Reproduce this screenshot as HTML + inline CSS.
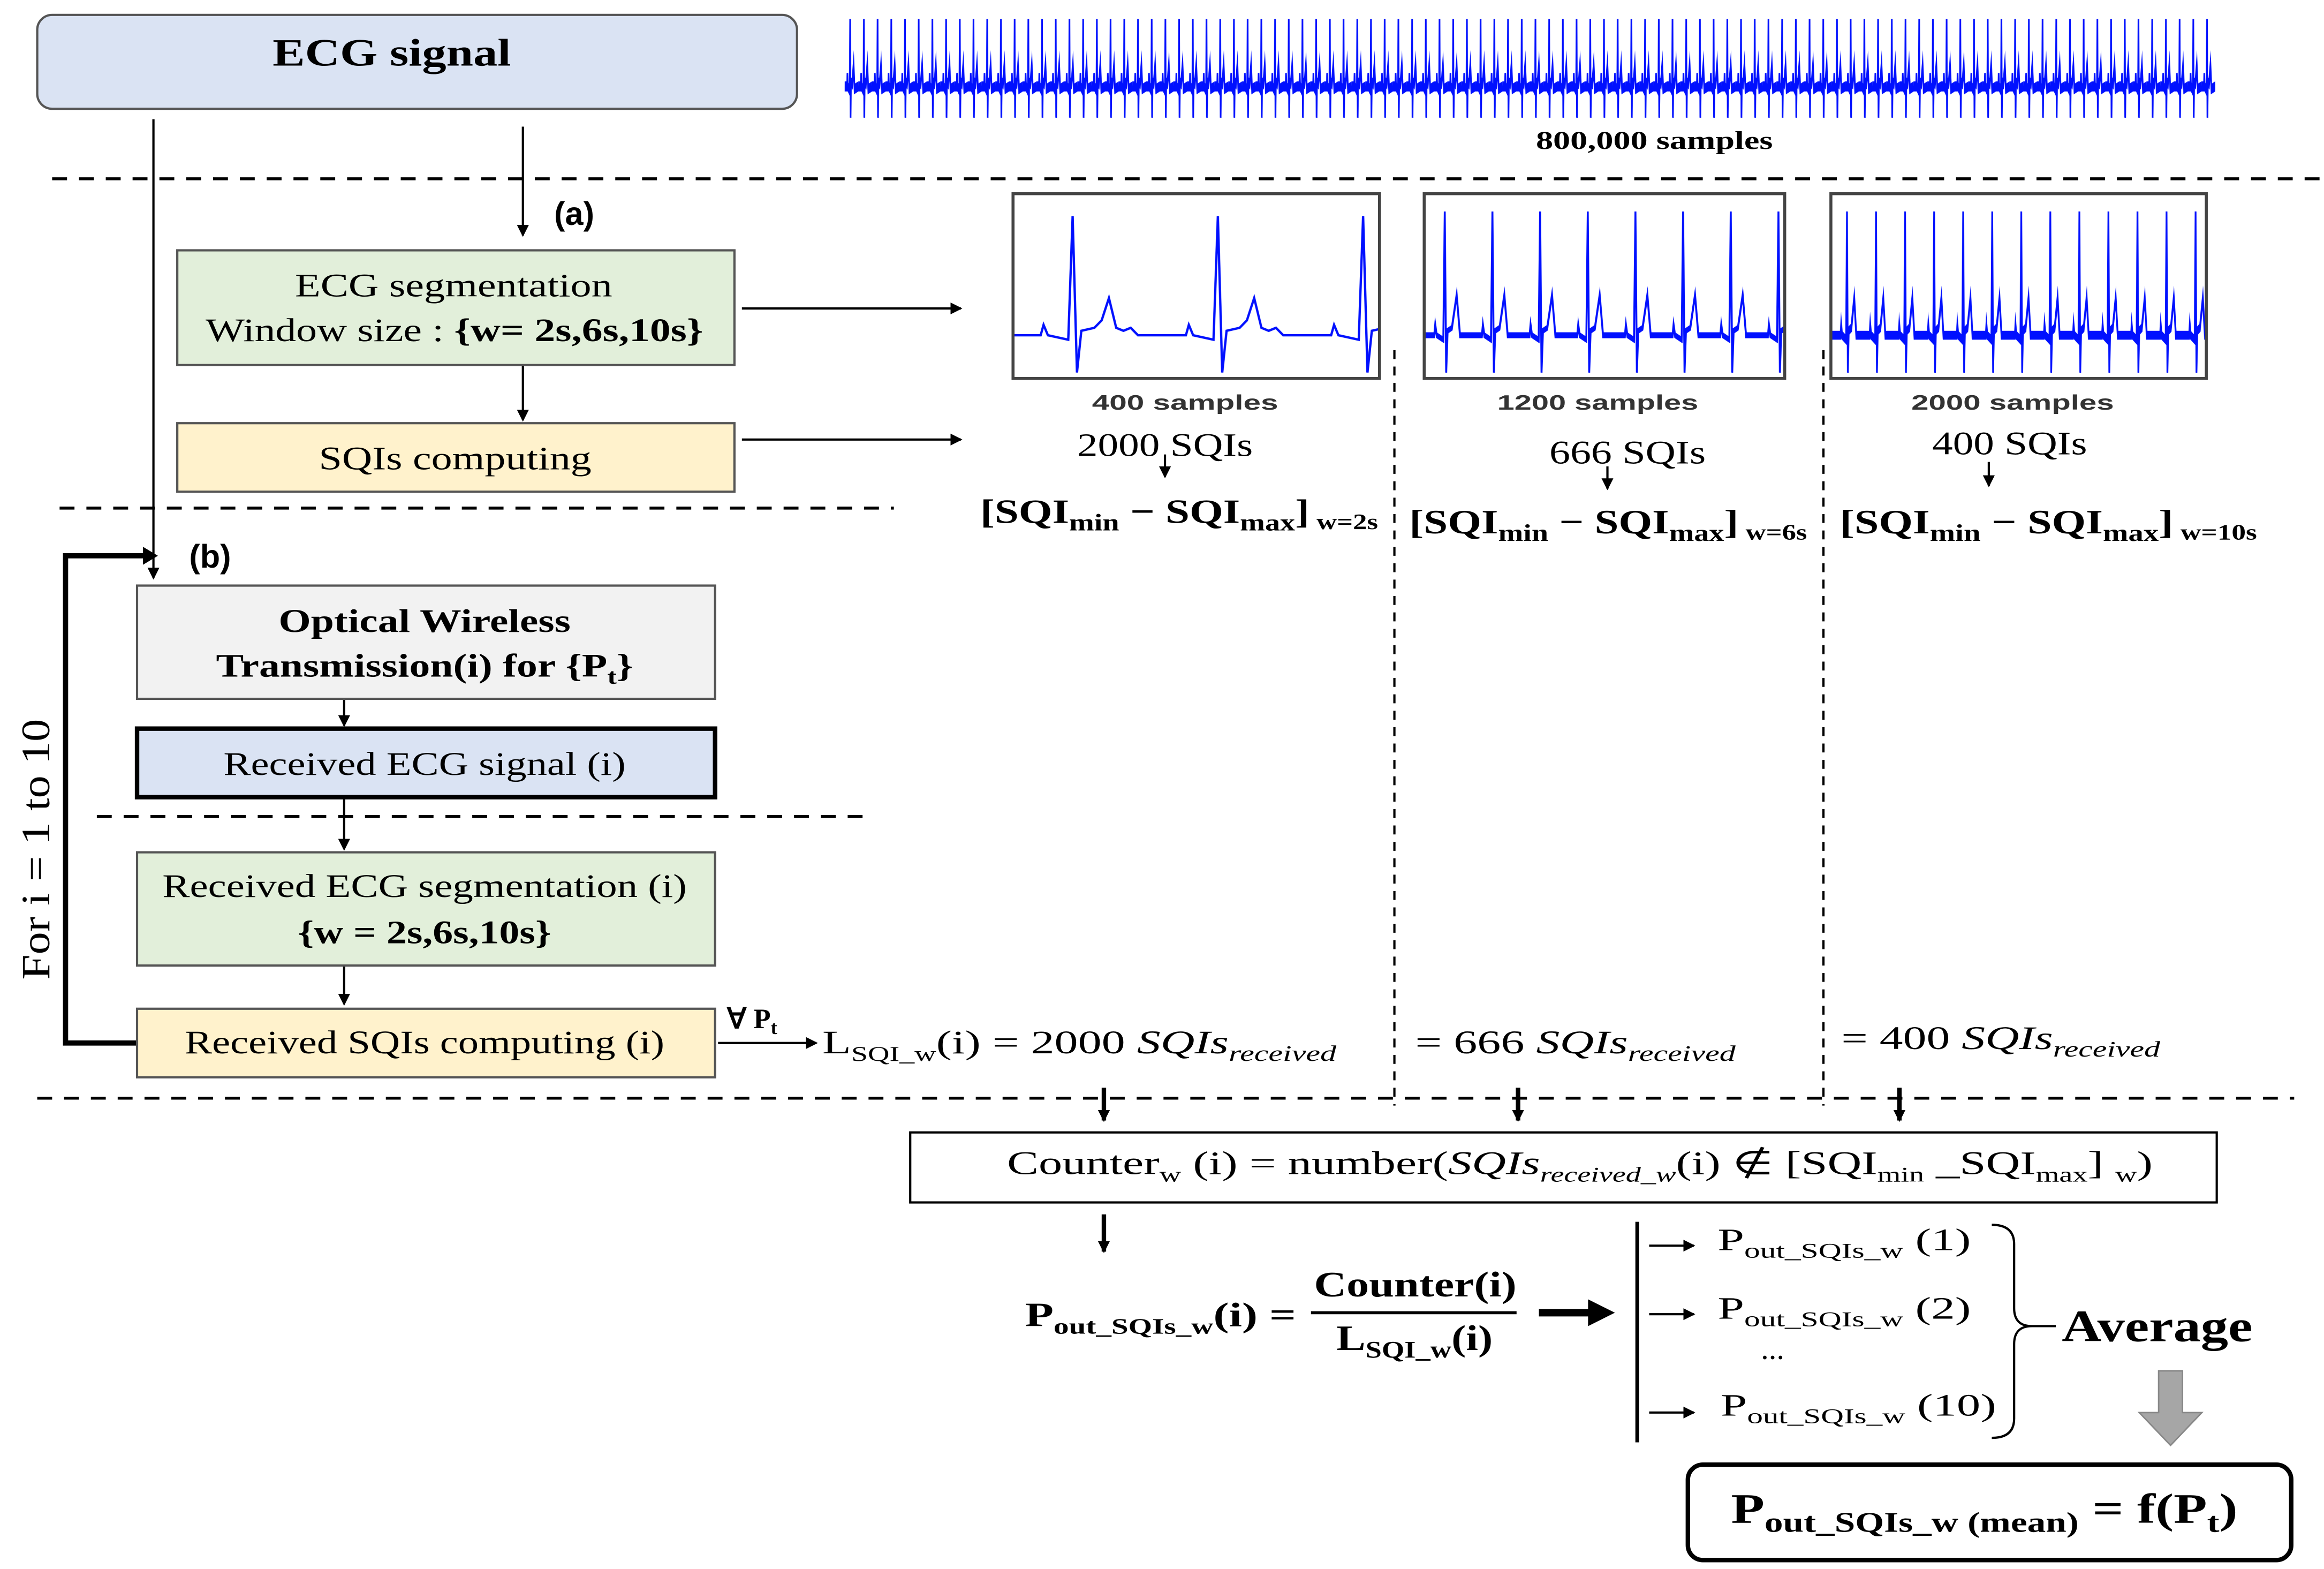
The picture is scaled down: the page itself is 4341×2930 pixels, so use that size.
<!DOCTYPE html>
<html><head><meta charset="utf-8"><style>html,body{margin:0;padding:0;background:#fff}svg{display:block}</style></head><body>
<svg xmlns="http://www.w3.org/2000/svg" width="4341" height="2930" viewBox="0 0 1560 1053" preserveAspectRatio="none" font-family="'Liberation Serif', serif">
<defs>
<marker id="ar" markerWidth="8" markerHeight="8" refX="7" refY="4" orient="auto" markerUnits="userSpaceOnUse"><path d="M0,0 L8,4 L0,8 z" fill="#000"/></marker>
<pattern id="pS" patternUnits="userSpaceOnUse" x="567" y="10" width="9.2" height="70" viewBox="0 0 100 124" preserveAspectRatio="none"><path d="M0,85 L18,85 L20,70 L23,85 L37,90 L40,5 L43,122 L46,80 L55,82 L65,60 L72,88 L100,85" fill="none" stroke="#0010ff" stroke-width="12"/></pattern>
<pattern id="p1" patternUnits="userSpaceOnUse" x="681" y="130" width="97.5" height="124" viewBox="0 0 100 124" preserveAspectRatio="none"><path d="M0,95 L18,95 L20,88 L23,95 L37,98 L40,15 L43,120 L46,92 L55,90 L60,85 L65,70 L70,90 L75,92 L80,90 L85,95 L100,95" fill="none" stroke="#0010ff" stroke-width="1.6"/></pattern>
<pattern id="p2" patternUnits="userSpaceOnUse" x="957" y="130" width="32" height="124" viewBox="0 0 100 124" preserveAspectRatio="none"><path d="M0,95 L18,95 L20,88 L23,95 L37,98 L40,12 L43,120 L46,92 L55,90 L65,68 L72,95 L100,95" fill="none" stroke="#0010ff" stroke-width="4"/></pattern>
<pattern id="p3" patternUnits="userSpaceOnUse" x="1232" y="130" width="19.5" height="124" viewBox="0 0 100 124" preserveAspectRatio="none"><path d="M0,95 L18,95 L20,88 L23,95 L37,98 L40,12 L43,120 L46,92 L55,90 L65,70 L72,95 L100,95" fill="none" stroke="#0010ff" stroke-width="6"/></pattern>
</defs>
<g stroke="#000" stroke-width="2" stroke-dasharray="10,8" fill="none">
<line x1="35" y1="120" x2="1560" y2="120"/><line x1="40" y1="341" x2="600" y2="341"/><line x1="65" y1="548" x2="580" y2="548"/><line x1="25" y1="737" x2="1540" y2="737"/>
</g>
<g stroke="#000" stroke-width="1.5" stroke-dasharray="6,5"><line x1="936" y1="235" x2="936" y2="742"/><line x1="1224" y1="235" x2="1224" y2="742"/></g>
<rect x="25" y="10" width="510" height="63" rx="10" fill="#dae3f3" stroke="#555" stroke-width="1.5"/>
<text x="183" y="44" font-size="26" font-weight="bold" textLength="160" lengthAdjust="spacingAndGlyphs">ECG signal</text>
<rect x="567" y="10" width="920" height="70" fill="url(#pS)"/>
<text x="1031" y="100" font-size="17" font-weight="bold" textLength="159" lengthAdjust="spacingAndGlyphs">800,000 samples</text>
<g stroke="#000" stroke-width="1.5" marker-end="url(#ar)" fill="none">
<line x1="103" y1="80" x2="103" y2="388"/><line x1="351" y1="85" x2="351" y2="158"/><line x1="351" y1="245" x2="351" y2="282"/>
<line x1="498" y1="207" x2="645" y2="207"/><line x1="498" y1="295" x2="645" y2="295"/>
<line x1="782" y1="305" x2="782" y2="320"/><line x1="1079" y1="313" x2="1079" y2="328"/><line x1="1335" y1="310" x2="1335" y2="326"/>
<line x1="231" y1="469" x2="231" y2="487"/><line x1="231" y1="535" x2="231" y2="570"/><line x1="231" y1="648" x2="231" y2="674"/>
<line x1="482" y1="700" x2="548" y2="700"/>
<line x1="1107" y1="836" x2="1137" y2="836"/><line x1="1107" y1="882" x2="1137" y2="882"/><line x1="1107" y1="948" x2="1137" y2="948"/>
</g>
<g stroke="#000" stroke-width="3" marker-end="url(#ar)" fill="none">
<line x1="741" y1="730" x2="741" y2="752"/><line x1="1019" y1="730" x2="1019" y2="752"/><line x1="1275" y1="730" x2="1275" y2="752"/><line x1="741" y1="815" x2="741" y2="840"/>
</g>
<text x="372" y="151" font-family="'Liberation Sans',sans-serif" font-size="22" font-weight="bold">(a)</text>
<rect x="119" y="168" width="374" height="77" fill="#e2efda" stroke="#555" stroke-width="1.5"/>
<text x="198" y="199" font-size="22" textLength="213" lengthAdjust="spacingAndGlyphs">ECG segmentation</text>
<text x="138" y="229" font-size="22" textLength="334" lengthAdjust="spacingAndGlyphs">Window size : <tspan font-weight="bold">{w= 2s,6s,10s}</tspan></text>
<rect x="119" y="284" width="374" height="46" fill="#fff2cc" stroke="#555" stroke-width="1.5"/>
<text x="214" y="315" font-size="22" textLength="183" lengthAdjust="spacingAndGlyphs">SQIs computing</text>
<rect x="680" y="130" width="246" height="124" fill="url(#p1)" stroke="#444" stroke-width="2"/>
<rect x="956" y="130" width="242" height="124" fill="url(#p2)" stroke="#444" stroke-width="2"/>
<rect x="1229" y="130" width="252" height="124" fill="url(#p3)" stroke="#444" stroke-width="2"/>
<g font-family="'Liberation Sans',sans-serif" font-size="14" font-weight="bold" fill="#333">
<text x="733" y="275" textLength="125" lengthAdjust="spacingAndGlyphs">400 samples</text><text x="1005" y="275" textLength="135" lengthAdjust="spacingAndGlyphs">1200 samples</text><text x="1283" y="275" textLength="136" lengthAdjust="spacingAndGlyphs">2000 samples</text></g>
<g font-size="22"><text x="723" y="306" textLength="118" lengthAdjust="spacingAndGlyphs">2000 SQIs</text><text x="1040" y="311" textLength="105" lengthAdjust="spacingAndGlyphs">666 SQIs</text><text x="1297" y="305" textLength="104" lengthAdjust="spacingAndGlyphs">400 SQIs</text></g>
<g font-size="23" font-weight="bold">
<text x="658" y="351" textLength="267" lengthAdjust="spacingAndGlyphs">[SQI<tspan font-size="16" dy="5">min</tspan><tspan dy="-5"> − SQI</tspan><tspan font-size="16" dy="5">max</tspan><tspan dy="-5">]</tspan><tspan font-size="15" dy="4"> w=2s</tspan></text>
<text x="946" y="358" textLength="267" lengthAdjust="spacingAndGlyphs">[SQI<tspan font-size="16" dy="5">min</tspan><tspan dy="-5"> − SQI</tspan><tspan font-size="16" dy="5">max</tspan><tspan dy="-5">]</tspan><tspan font-size="15" dy="4"> w=6s</tspan></text>
<text x="1235" y="358" textLength="280" lengthAdjust="spacingAndGlyphs">[SQI<tspan font-size="16" dy="5">min</tspan><tspan dy="-5"> − SQI</tspan><tspan font-size="16" dy="5">max</tspan><tspan dy="-5">]</tspan><tspan font-size="15" dy="4"> w=10s</tspan></text>
</g>
<text x="127" y="381" font-family="'Liberation Sans',sans-serif" font-size="22" font-weight="bold">(b)</text>
<polyline points="92,700 44,700 44,373 98,373" fill="none" stroke="#000" stroke-width="3.5"/>
<path d="M96,367 L106,373 L96,379 z"/>
<text transform="translate(33,570) rotate(-90)" font-size="27" text-anchor="middle" textLength="175" lengthAdjust="spacingAndGlyphs">For i = 1 to 10</text>
<rect x="92" y="393" width="388" height="76" fill="#f2f2f2" stroke="#555" stroke-width="1.5"/>
<text x="187" y="424" font-size="22" font-weight="bold" textLength="196" lengthAdjust="spacingAndGlyphs">Optical Wireless</text>
<text x="145" y="454" font-size="22" font-weight="bold" textLength="280" lengthAdjust="spacingAndGlyphs">Transmission(i) for {P<tspan font-size="15" dy="5">t</tspan><tspan dy="-5">}</tspan></text>
<rect x="92" y="489" width="388" height="46" fill="#dae3f3" stroke="#000" stroke-width="3"/>
<text x="150" y="520" font-size="22" textLength="270" lengthAdjust="spacingAndGlyphs">Received ECG signal (i)</text>
<rect x="92" y="572" width="388" height="76" fill="#e2efda" stroke="#555" stroke-width="1.5"/>
<text x="109" y="602" font-size="22" textLength="352" lengthAdjust="spacingAndGlyphs">Received ECG segmentation (i)</text>
<text x="200" y="633" font-size="22" font-weight="bold" textLength="170" lengthAdjust="spacingAndGlyphs">{w = 2s,6s,10s}</text>
<rect x="92" y="677" width="388" height="46" fill="#fff2cc" stroke="#555" stroke-width="1.5"/>
<text x="124" y="707" font-size="22" textLength="322" lengthAdjust="spacingAndGlyphs">Received SQIs computing (i)</text>
<text x="488" y="690" font-size="19" font-weight="bold">∀ P<tspan font-size="13" dy="4">t</tspan></text>
<text x="552" y="707" font-size="22" textLength="345" lengthAdjust="spacingAndGlyphs">L<tspan font-size="14" dy="5">SQI_w</tspan><tspan dy="-5">(i) = 2000  </tspan><tspan font-style="italic"> SQIs</tspan><tspan font-style="italic" font-size="15" dy="5">received</tspan></text>
<text x="950" y="707" font-size="22" textLength="215" lengthAdjust="spacingAndGlyphs">= 666 <tspan font-style="italic">SQIs</tspan><tspan font-style="italic" font-size="15" dy="5">received</tspan></text>
<text x="1236" y="704" font-size="22" textLength="214" lengthAdjust="spacingAndGlyphs">= 400 <tspan font-style="italic">SQIs</tspan><tspan font-style="italic" font-size="15" dy="5">received</tspan></text>
<rect x="611" y="760" width="877" height="47" fill="#fff" stroke="#000" stroke-width="1.5"/>
<text x="676" y="788" font-size="22" textLength="769" lengthAdjust="spacingAndGlyphs">Counter<tspan font-size="14" dy="5">w</tspan><tspan dy="-5"> (i) = number(</tspan><tspan font-style="italic">SQIs</tspan><tspan font-style="italic" font-size="14" dy="5">received_w</tspan><tspan dy="-5">(i) ∉ [SQI</tspan><tspan font-size="14" dy="5">min</tspan><tspan dy="-5"> _SQI</tspan><tspan font-size="14" dy="5">max</tspan><tspan dy="-5">] </tspan><tspan font-size="14" dy="5">w</tspan><tspan dy="-5">)</tspan></text>
<text x="688" y="890" font-size="23" font-weight="bold" textLength="182" lengthAdjust="spacingAndGlyphs">P<tspan font-size="15" dy="5">out_SQIs_w</tspan><tspan dy="-5">(i) =</tspan></text>
<text x="882" y="870" font-size="24" font-weight="bold" textLength="136" lengthAdjust="spacingAndGlyphs">Counter(i)</text>
<line x1="880" y1="881" x2="1018" y2="881" stroke="#000" stroke-width="2"/>
<text x="897" y="906" font-size="24" font-weight="bold" textLength="105" lengthAdjust="spacingAndGlyphs">L<tspan font-size="16" dy="5">SQI_w</tspan><tspan dy="-5">(i)</tspan></text>
<line x1="1033" y1="881" x2="1070" y2="881" stroke="#000" stroke-width="5"/><path d="M1066,872 L1084,881 L1066,890 z"/>
<line x1="1099" y1="820" x2="1099" y2="968" stroke="#000" stroke-width="2.5"/>
<g font-size="21"><text x="1153" y="839" textLength="170" lengthAdjust="spacingAndGlyphs">P<tspan font-size="14" dy="5">out_SQIs_w</tspan><tspan dy="-5">  (1)</tspan></text>
<text x="1153" y="885" textLength="170" lengthAdjust="spacingAndGlyphs">P<tspan font-size="14" dy="5">out_SQIs_w</tspan><tspan dy="-5">  (2)</tspan></text>
<text x="1182" y="912">...</text>
<text x="1155" y="950" textLength="185" lengthAdjust="spacingAndGlyphs">P<tspan font-size="14" dy="5">out_SQIs_w</tspan><tspan dy="-5">  (10)</tspan></text></g>
<path d="M1337,822 Q1352,822 1352,835 L1352,878 Q1352,890 1364,890 L1380,890 M1364,890 Q1352,890 1352,902 L1352,952 Q1352,965 1337,965" fill="none" stroke="#000" stroke-width="1.5"/>
<text x="1384" y="900" font-size="30" font-weight="bold" textLength="128" lengthAdjust="spacingAndGlyphs">Average</text>
<path d="M1449,920 L1465,920 L1465,948 L1478,948 L1457,970 L1436,948 L1449,948 z" fill="#a6a6a6" stroke="#888"/>
<rect x="1133" y="983" width="405" height="64" rx="10" fill="#fff" stroke="#000" stroke-width="3"/>
<text x="1162" y="1022" font-size="28" font-weight="bold" textLength="340" lengthAdjust="spacingAndGlyphs">P<tspan font-size="19" dy="6">out_SQIs_w (mean)</tspan><tspan dy="-6"> = f(P</tspan><tspan font-size="19" dy="6">t</tspan><tspan dy="-6">)</tspan></text>
</svg>
</body></html>
